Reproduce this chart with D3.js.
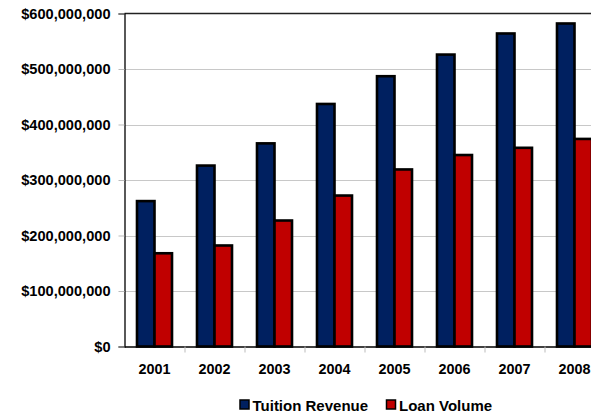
<!DOCTYPE html>
<html>
<head>
<meta charset="utf-8">
<script src="https://cdn.jsdelivr.net/npm/d3@7"></script>
<style>
  body { margin: 0; background: #fff; }
  text { font-family: "Liberation Sans", Arial, sans-serif; font-weight: bold; }
</style>
</head>
<body>
<script>
var years = ["2001", "2002", "2003", "2004", "2005", "2006", "2007", "2008"];
var series = ["Tuition Revenue", "Loan Volume"];
var tuition = [262e6, 326e6, 366e6, 437e6, 487e6, 526e6, 564e6, 582e6];
var loans = [168e6, 182e6, 227e6, 272e6, 319e6, 345e6, 358e6, 374e6];
var yTicks = [0, 100e6, 200e6, 300e6, 400e6, 500e6, 600e6];
var colors = ["#002060", "#c00000"];

var width = 591, height = 414;
var plotLeft = 124.5, plotRight = 604.5, plotTop = 13.5, plotBottom = 346.5;

var svg = d3.select("body").append("svg")
    .attr("width", width)
    .attr("height", height);

var y = d3.scaleLinear().domain([0, 600e6]).range([plotBottom, plotTop]);
var x0 = d3.scaleBand().domain(years).range([plotLeft, plotRight]);
var x1 = d3.scaleBand().domain(series).range([0, x0.bandwidth()])
    .paddingInner(0).paddingOuter(0.714);

// gridlines
svg.append("g").selectAll("line")
    .data(yTicks.slice(1, -1))
    .enter().append("line")
    .attr("x1", plotLeft).attr("x2", plotRight)
    .attr("y1", function(d) { return Math.round(y(d)) + 0.5; })
    .attr("y2", function(d) { return Math.round(y(d)) + 0.5; })
    .style("stroke", "#c8c8c8")
    .style("stroke-width", 1);

// top border
svg.append("line")
    .attr("x1", plotLeft).attr("x2", plotRight)
    .attr("y1", plotTop).attr("y2", plotTop)
    .style("stroke", "#222").style("stroke-width", 1.3);

// bars
var rows = years.map(function(yr, i) {
    return {year: yr, values: [tuition[i], loans[i]]};
});
var groups = svg.append("g").selectAll("g")
    .data(rows).enter().append("g")
    .attr("transform", function(d) { return "translate(" + x0(d.year) + ",0)"; });

groups.selectAll("rect")
    .data(function(d) { return d.values.map(function(v, j) { return {key: series[j], value: v, j: j}; }); })
    .enter().append("rect")
    .attr("x", function(d) { return x1(d.key); })
    .attr("width", x1.bandwidth())
    .attr("y", function(d) { return y(d.value); })
    .attr("height", function(d) { return plotBottom - y(d.value); })
    .style("fill", function(d) { return colors[d.j]; })
    .style("stroke", "#000")
    .style("stroke-width", 2.6);

// y axis
var yAxis = d3.axisLeft(y).tickValues(yTicks).tickSize(6).tickPadding(8)
    .tickFormat(function(d) { return "$" + d3.format(",")(d); });
var ya = svg.append("g").attr("transform", "translate(" + plotLeft + ",0)").call(yAxis);
ya.select(".domain").style("stroke", "#000").style("stroke-width", 1.3);
ya.selectAll(".tick line").style("stroke", "#bbb");
ya.selectAll("text").style("font-size", "14.6px").style("fill", "#000")
    .style("font-family", "Liberation Sans, Arial, sans-serif").style("font-weight", "bold");

// x axis
var xAxis = d3.axisBottom(x0).tickSize(0).tickPadding(17);
var xa = svg.append("g").attr("transform", "translate(0," + plotBottom + ")").call(xAxis);
xa.select(".domain").style("stroke", "#000").style("stroke-width", 1.3);
xa.selectAll("text").style("font-size", "14.4px").style("fill", "#000")
    .style("font-family", "Liberation Sans, Arial, sans-serif").style("font-weight", "bold");
// category separators below the baseline
svg.append("g").selectAll("line")
    .data(years.slice(1))
    .enter().append("line")
    .attr("x1", function(d) { return x0(d) + 0.5; })
    .attr("x2", function(d) { return x0(d) + 0.5; })
    .attr("y1", plotBottom).attr("y2", plotBottom + 6)
    .style("stroke", "#bbb");

// legend
var legendX = [240, 386.5];
var legend = svg.append("g").selectAll("g")
    .data(series).enter().append("g")
    .attr("transform", function(d, i) { return "translate(" + legendX[i] + ",400)"; });
legend.append("rect")
    .attr("x", 0).attr("y", 0).attr("width", 9).attr("height", 9)
    .style("fill", function(d, i) { return colors[i]; })
    .style("stroke", "#000").style("stroke-width", 1.5);
legend.append("text")
    .attr("x", 12.5).attr("y", 10.5)
    .style("font-size", "15px")
    .text(function(d) { return d; });
</script>
</body>
</html>
